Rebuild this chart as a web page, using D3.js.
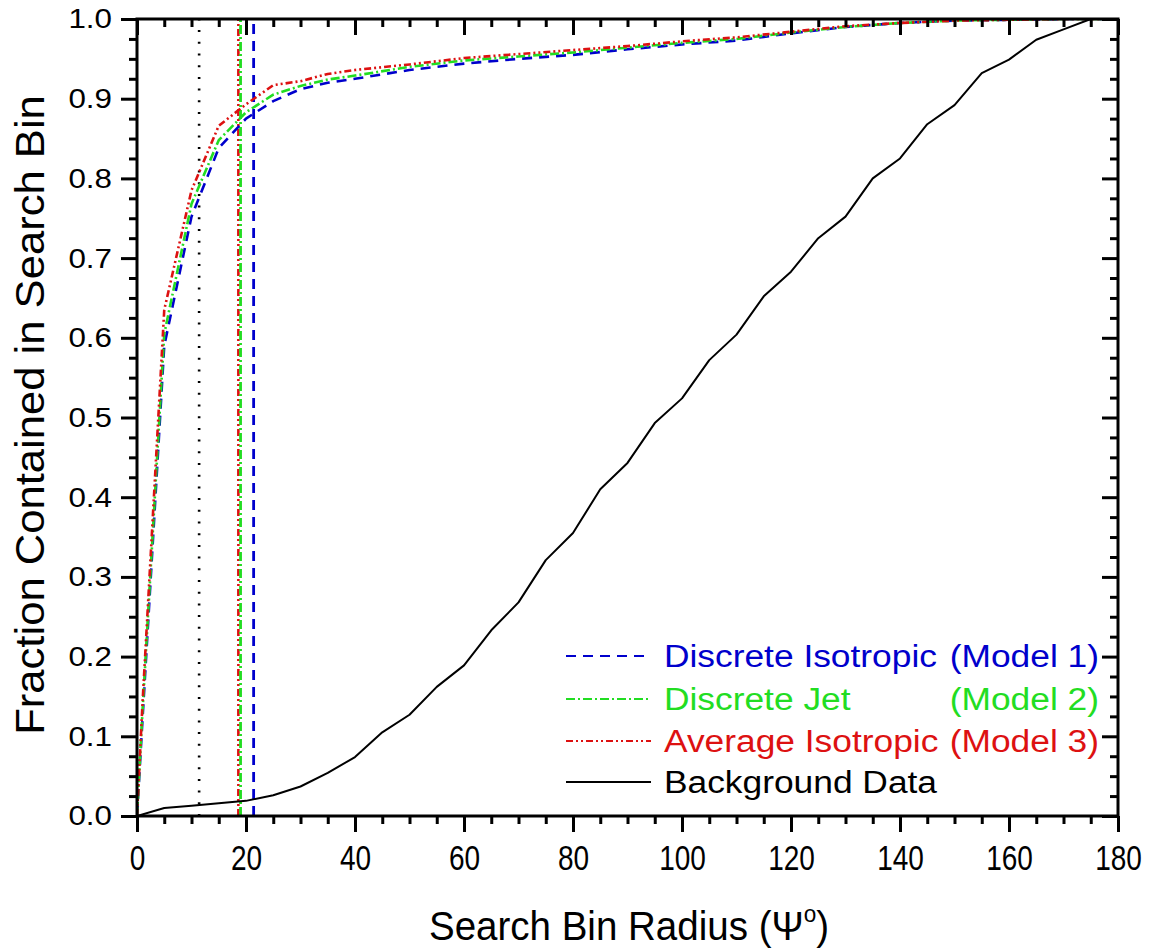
<!DOCTYPE html>
<html>
<head>
<meta charset="utf-8">
<script src="https://cdn.jsdelivr.net/npm/d3@7"></script>
<style>
  body { margin: 0; background: #fff; }
  text { font-family: "Liberation Sans", Arial, sans-serif; }
</style>
</head>
<body>
<script>
// search bin radius (degrees) where the model curves were sampled
var angles = [0, 1, 5, 10, 15, 20, 25, 30, 35, 40, 50, 60, 70, 80, 90, 100, 110, 120, 130, 140, 150, 160, 170, 180];
var model1 = [0, 0.12, 0.59, 0.752, 0.838, 0.875, 0.897, 0.912, 0.92, 0.925, 0.936, 0.944, 0.95, 0.955, 0.962, 0.968, 0.973, 0.982, 0.99, 0.995, 0.998, 0.999, 1.0, 1.0];
var model2 = [0, 0.13, 0.605, 0.768, 0.848, 0.883, 0.905, 0.916, 0.924, 0.929, 0.94, 0.948, 0.953, 0.958, 0.964, 0.97, 0.975, 0.983, 0.99, 0.995, 0.998, 0.999, 1.0, 1.0];
var model3 = [0, 0.14, 0.635, 0.785, 0.866, 0.893, 0.917, 0.922, 0.931, 0.936, 0.943, 0.951, 0.956, 0.961, 0.966, 0.972, 0.977, 0.984, 0.991, 0.995, 0.998, 0.999, 1.0, 1.0];

// background data
var bgAngles = [0, 5, 10, 15, 20, 25, 30, 35, 40, 45, 50, 55, 60, 65, 70, 75, 80, 85, 90, 95, 100, 105, 110, 115, 120, 125, 130, 135, 140, 145, 150, 155, 160, 165, 170, 175, 180];
var bgFraction = [0, 0.010, 0.013, 0.016, 0.019, 0.026, 0.037, 0.054, 0.074, 0.105, 0.127, 0.162, 0.189, 0.233, 0.268, 0.321, 0.355, 0.41, 0.443, 0.493, 0.524, 0.572, 0.604, 0.652, 0.683, 0.725, 0.752, 0.80, 0.825, 0.868, 0.892, 0.932, 0.949, 0.974, 0.987, 1.0, 1.0];

// vertical marker lines (degrees)
var markerAngles = [11.4, 18.6, 19.0, 21.4];

var legendNames = ["Discrete Isotropic", "Discrete Jet", "Average Isotropic", "Background Data"];
var legendModels = ["(Model 1)", "(Model 2)", "(Model 3)", ""];

var xTicks = [0, 20, 40, 60, 80, 100, 120, 140, 160, 180];
var yTicks = [0, 0.1, 0.2, 0.3, 0.4, 0.5, 0.6, 0.7, 0.8, 0.9, 1.0];

var width = 1160, height = 952;
var pLeft = 137, pRight = 1118, pTop = 19, pBottom = 816;

var blue = "#0000cc", green = "#22dd22", red = "#dd1111";
var styles = [
    { color: blue, dash: "10,7", w: 2.6 },
    { color: green, dash: "9,3,2,3", w: 2.6 },
    { color: red, dash: "7,3,2,3,2,3", w: 2.6 },
    { color: "#000", dash: null, w: 2 }
];
var markerStyles = [
    { color: "#000", dash: "2,9.7", w: 2.6 },
    { color: red, dash: "7,3,2,3,2,3", w: 2.6 },
    { color: green, dash: "9,3,2,3", w: 2.8 },
    { color: blue, dash: "10,7", w: 2.8 }
];

var svg = d3.select("body").append("svg")
    .attr("width", width)
    .attr("height", height);

var x = d3.scaleLinear().domain([0, 180]).range([pLeft, pRight]);
var y = d3.scaleLinear().domain([0, 1]).range([pBottom, pTop]);

// stretch or squeeze text horizontally around its anchor
function stretch(sel, k) {
    sel.each(function() {
        var t = d3.select(this);
        var ax = +t.attr("x") || 0;
        t.attr("transform", "translate(" + ax + ",0) scale(" + k + ",1) translate(" + (-ax) + ",0)");
    });
}

svg.append("clipPath").attr("id", "clip")
    .append("rect")
    .attr("x", pLeft).attr("y", pTop)
    .attr("width", pRight - pLeft).attr("height", pBottom - pTop);

var plot = svg.append("g").attr("clip-path", "url(#clip)");

// vertical lines
plot.selectAll(".marker").data(markerAngles)
    .enter().append("line")
    .attr("x1", function(d) { return x(d); })
    .attr("x2", function(d) { return x(d); })
    .attr("y1", y(0))
    .attr("y2", y(1))
    .attr("stroke", function(d, i) { return markerStyles[i].color; })
    .attr("stroke-width", function(d, i) { return markerStyles[i].w; })
    .attr("stroke-dasharray", function(d, i) { return markerStyles[i].dash; });

var line = d3.line()
    .x(function(d) { return x(d[0]); })
    .y(function(d) { return y(d[1]); });

var series = [
    d3.zip(angles, model1),
    d3.zip(angles, model2),
    d3.zip(angles, model3),
    d3.zip(bgAngles, bgFraction)
];

plot.selectAll(".curve").data(series)
    .enter().append("path")
    .attr("d", line)
    .attr("fill", "none")
    .attr("stroke", function(d, i) { return styles[i].color; })
    .attr("stroke-width", function(d, i) { return styles[i].w; })
    .attr("stroke-dasharray", function(d, i) { return styles[i].dash; })
    .attr("stroke-linejoin", "round");

// axes: major + minor, outward on bottom/left, inward on top/right
var xMinor = [];
for (var v = 0; v <= 180; v += 5) if (v % 20 !== 0) xMinor.push(v);
var yMinor = [];
for (var k = 0; k <= 40; k++) if (k % 4 !== 0) yMinor.push(k / 40);

function axisStyle(g) {
    g.select(".domain").remove();
    g.selectAll("line").attr("stroke", "#000").attr("stroke-width", 3);
}

svg.append("g").attr("transform", "translate(0," + pBottom + ")")
    .call(d3.axisBottom(x).tickValues(xMinor).tickSize(8).tickFormat(""))
    .call(axisStyle);
var xAxis = svg.append("g").attr("transform", "translate(0," + pBottom + ")")
    .call(d3.axisBottom(x).tickValues(xTicks).tickSize(16).tickPadding(13).tickFormat(d3.format("d")))
    .call(axisStyle);
xAxis.selectAll("text")
    .attr("font-size", 35)
    .attr("fill", "#000")
    .attr("font-family", "Liberation Sans, Arial, sans-serif")
    .call(stretch, 0.8);

svg.append("g").attr("transform", "translate(0," + pTop + ")")
    .call(d3.axisTop(x).tickValues(xMinor).tickSize(-8).tickFormat(""))
    .call(axisStyle);
svg.append("g").attr("transform", "translate(0," + pTop + ")")
    .call(d3.axisTop(x).tickValues(xTicks).tickSize(-16).tickFormat(""))
    .call(axisStyle);

svg.append("g").attr("transform", "translate(" + pLeft + ",0)")
    .call(d3.axisLeft(y).tickValues(yMinor).tickSize(8).tickFormat(""))
    .call(axisStyle);
var yAxis = svg.append("g").attr("transform", "translate(" + pLeft + ",0)")
    .call(d3.axisLeft(y).tickValues(yTicks).tickSize(16).tickPadding(9).tickFormat(d3.format(".1f")))
    .call(axisStyle);
yAxis.selectAll("text")
    .attr("font-size", 28)
    .attr("fill", "#000")
    .attr("font-family", "Liberation Sans, Arial, sans-serif")
    .call(stretch, 1.12);

svg.append("g").attr("transform", "translate(" + pRight + ",0)")
    .call(d3.axisRight(y).tickValues(yMinor).tickSize(-8).tickFormat(""))
    .call(axisStyle);
svg.append("g").attr("transform", "translate(" + pRight + ",0)")
    .call(d3.axisRight(y).tickValues(yTicks).tickSize(-16).tickFormat(""))
    .call(axisStyle);

// frame
svg.append("rect")
    .attr("x", pLeft).attr("y", pTop)
    .attr("width", pRight - pLeft).attr("height", pBottom - pTop)
    .attr("fill", "none").attr("stroke", "#000").attr("stroke-width", 3);

// axis titles
var xTitle = svg.append("text")
    .attr("x", 629).attr("y", 940)
    .attr("text-anchor", "middle")
    .attr("font-size", 41);
xTitle.append("tspan").text("Search Bin Radius (\u03A8");
xTitle.append("tspan").attr("dy", -18).attr("font-size", 24).text("o");
xTitle.append("tspan").attr("dy", 18).text(")");
stretch(xTitle, 0.94);

var yTitle = svg.append("g").attr("transform", "translate(44,415) rotate(-90)")
    .append("text")
    .attr("x", 0).attr("y", 0)
    .attr("text-anchor", "middle")
    .attr("font-size", 40)
    .text("Fraction Contained in Search Bin");
stretch(yTitle, 1.09);

// legend
var legendY = [656, 699, 741, 782];
var legend = svg.append("g");
legendNames.forEach(function(name, i) {
    legend.append("line")
        .attr("x1", 566).attr("x2", 651)
        .attr("y1", legendY[i]).attr("y2", legendY[i])
        .attr("stroke", styles[i].color)
        .attr("stroke-width", 2)
        .attr("stroke-dasharray", styles[i].dash);
    var col = styles[i].color;
    legend.append("text")
        .attr("x", 664).attr("y", legendY[i] + 11)
        .attr("font-size", 31)
        .attr("fill", col)
        .text(name)
        .call(stretch, 1.14);
    if (legendModels[i]) {
        legend.append("text")
            .attr("x", 1099).attr("y", legendY[i] + 11)
            .attr("text-anchor", "end")
            .attr("font-size", 31)
            .attr("fill", col)
            .text(legendModels[i])
            .call(stretch, 1.14);
    }
});
</script>
</body>
</html>
